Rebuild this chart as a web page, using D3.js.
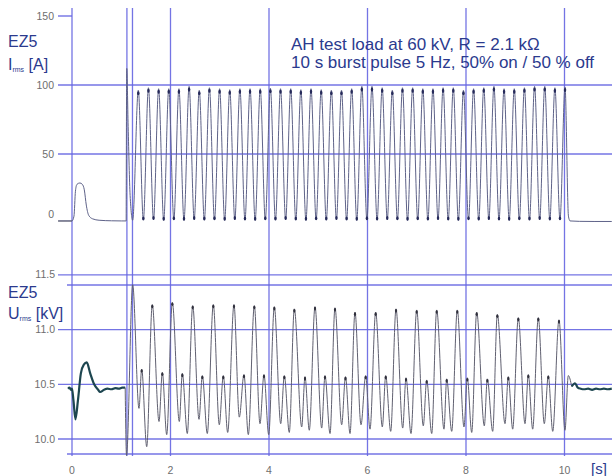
<!DOCTYPE html>
<html><head><meta charset="utf-8">
<script src="https://cdn.jsdelivr.net/npm/d3@7"></script>
<style>body{margin:0;background:#fff}svg{display:block}</style>
</head><body>
<svg id="c" width="612" height="476"></svg>
<script>
// ---------- DATA ----------
const xTicks = [0, 2, 4, 6, 8, 10];
const xTickLabels = ["0", "2", "4", "6", "8", "10"];
const markerT = [1.115, 1.228];           // burst start marker lines [s]
const iTicks = [150, 100, 50, 0];
const iTickLabels = ["150", "100", "50", "0"];
const iGrid = [100, 50];
const uTicks = [11.5, 11.0, 10.5, 10.0];
const uTickLabels = ["11.5", "11.0", "10.5", "10.0"];

// Current Irms [A] : pre-burst segment
const iPreT = [-0.28, -0.1, 0.0, 0.04, 0.07, 0.1, 0.16, 0.21, 0.25, 0.29, 0.34, 0.42, 0.55, 0.8, 1.0, 1.1];
const iPreV = [1.5, 1.5, 1.5, 5, 23, 28, 29, 28, 24, 13, 5.5, 3, 2, 1.6, 1.5, 1.5];
// Current burst: spike then alternating troughs / peaks
const iBurstT = [1.1, 1.112, 1.14, 1.18, 1.232,
  1.346, 1.449, 1.552, 1.655, 1.759, 1.862, 1.965, 2.068, 2.171, 2.274, 2.378, 2.481, 2.584, 2.687, 2.790, 2.893, 2.997, 3.100,
  3.203, 3.306, 3.409, 3.512, 3.615, 3.719, 3.822, 3.925, 4.028, 4.131, 4.234, 4.338, 4.441, 4.544, 4.647, 4.750, 4.853, 4.957,
  5.060, 5.163, 5.266, 5.369, 5.472, 5.576, 5.679, 5.782, 5.885, 5.988, 6.091, 6.195, 6.298, 6.401, 6.504, 6.607, 6.710, 6.813,
  6.917, 7.020, 7.123, 7.226, 7.329, 7.432, 7.535, 7.639, 7.742, 7.845, 7.948, 8.051, 8.154, 8.258, 8.361, 8.464, 8.567, 8.670,
  8.773, 8.877, 8.980, 9.083, 9.186, 9.289, 9.392, 9.496, 9.599, 9.702, 9.805, 9.908, 10.011, 10.08, 10.11];
const iBurstV = [1.5, 112, 70, 20, 2,
  96.2, 2.2, 98, 2.5, 97.3, 2, 97.3, 2.4, 97.3, 2, 99, 2.6, 96.2, 2.1, 98, 2.3, 97.3, 2,
  96.6, 2.5, 97.3, 2.2, 97.3, 2, 97.3, 2.4, 97.7, 2.1, 97.3, 2.5, 97.3, 2.2, 96.6, 2, 97.3, 2.4,
  96.6, 2.1, 96.2, 2.6, 96.2, 2.2, 97.3, 2, 99, 2.4, 99, 2.1, 98, 2.5, 96.2, 2.3, 98, 2,
  98, 2.4, 97.3, 2.1, 97.3, 2.5, 98, 2.2, 98, 2, 96.2, 2.4, 97.3, 2.1, 98, 2.5, 99, 2.2,
  97.3, 2, 97.3, 2.4, 98, 2.1, 99, 2.5, 99, 2.2, 98, 2.3, 98.5, 5, 1.5];
const iPostT = [10.11, 10.3, 10.6, 10.96];
const iPostV = [1.5, 1.2, 1.1, 1.1];

// Voltage Urms [kV]
const uPreT = [-0.08, -0.05, -0.02, 0.0, 0.03, 0.07, 0.12, 0.18, 0.24, 0.30, 0.37, 0.45, 0.53, 0.57, 0.65, 0.72, 0.8, 0.88, 0.95, 1.02, 1.08];
const uPreV = [10.46, 10.47, 10.45, 10.46, 10.35, 10.18, 10.35, 10.6, 10.68, 10.7, 10.6, 10.5, 10.45, 10.43, 10.45, 10.46, 10.455, 10.465, 10.46, 10.47, 10.47];
const uBurstT = [1.08, 1.107, 1.232,
  1.360, 1.415, 1.517, 1.630, 1.767, 1.834, 1.923, 2.037, 2.179, 2.240, 2.341, 2.451, 2.579, 2.646, 2.747, 2.869,
  2.991, 3.072, 3.161, 3.289, 3.397, 3.492, 3.580, 3.702, 3.817, 3.898, 3.994, 4.108, 4.238, 4.311, 4.412, 4.514,
  4.664, 4.731, 4.818, 4.934, 5.070, 5.137, 5.239, 5.340, 5.476, 5.553, 5.645, 5.746, 5.868, 5.963, 6.051, 6.166,
  6.301, 6.370, 6.471, 6.579, 6.715, 6.782, 6.883, 6.999, 7.133, 7.202, 7.304, 7.405, 7.553, 7.608, 7.710, 7.823,
  7.959, 8.027, 8.116, 8.217, 8.372, 8.433, 8.542, 8.636, 8.792, 8.859, 8.948, 9.062, 9.198, 9.265, 9.354, 9.468,
  9.590, 9.671, 9.761, 9.888, 10.010, 10.077, 10.146];
const uBurstV = [10.47, 9.85, 11.41,
  10.28, 10.64, 9.93, 11.23, 10.16, 10.61, 10.04, 11.25, 10.16, 10.60, 10.05, 11.22, 10.18, 10.58, 10.05, 11.23,
  10.13, 10.58, 10.06, 11.23, 10.20, 10.59, 10.04, 11.22, 10.14, 10.59, 10.04, 11.21, 10.14, 10.58, 10.06, 11.19,
  10.11, 10.57, 10.08, 11.21, 10.10, 10.58, 10.05, 11.20, 10.13, 10.57, 10.05, 11.16, 10.13, 10.58, 10.09, 11.16,
  10.11, 10.58, 10.07, 11.19, 10.10, 10.56, 10.05, 11.18, 10.12, 10.54, 10.05, 11.18, 10.09, 10.55, 10.07, 11.18,
  10.11, 10.56, 10.06, 11.16, 10.12, 10.55, 10.07, 11.14, 10.14, 10.57, 10.09, 11.11, 10.14, 10.59, 10.09, 11.11,
  10.14, 10.58, 10.07, 11.09, 10.08, 10.58, 10.48];
const uPostT = [10.146, 10.213, 10.27, 10.33, 10.4, 10.48, 10.56, 10.64, 10.72, 10.8, 10.88, 10.96];
const uPostV = [10.48, 10.51, 10.47, 10.46, 10.455, 10.46, 10.45, 10.46, 10.455, 10.46, 10.455, 10.46];

// ---------- CHART ----------
const svg = d3.select("#c");
const gridC = "#6666e2", textC = "#2b3a8e", tickC = "#6e6e6e";
const x = d3.scaleLinear().domain([0, 10]).range([72, 564.5]);
const yI = d3.scaleLinear().domain([0, 150]).range([223, 16]);
const yU = d3.scaleLinear().domain([9.863, 11.408]).range([454, 285]);
const fontF = "'Liberation Sans', Arial, sans-serif";

// vertical grid lines
const vx = xTicks.concat(markerT);
svg.append("g").selectAll("line").data(vx).join("line")
  .attr("x1", d => x(d)).attr("x2", d => x(d)).attr("y1", 8).attr("y2", 456)
  .attr("stroke", gridC).attr("stroke-width", 1.3).attr("opacity", 0.9);

// top panel horizontal lines
const gTop = svg.append("g");
gTop.selectAll("line.g").data(iGrid).join("line").attr("class", "g")
  .attr("x1", 58).attr("x2", 612).attr("y1", d => yI(d)).attr("y2", d => yI(d))
  .attr("stroke", gridC).attr("stroke-width", 1.3).attr("opacity", 0.9);
gTop.selectAll("line.t").data([150, 0]).join("line").attr("class", "t")
  .attr("x1", 58).attr("x2", 72).attr("y1", d => yI(d) - (d === 0 ? 2 : 0)).attr("y2", d => yI(d) - (d === 0 ? 2 : 0))
  .attr("stroke", d => d === 0 ? "#666" : gridC).attr("stroke-width", d => d === 0 ? 1 : 1.3);
gTop.selectAll("text").data(iTicks).join("text")
  .attr("x", 54).attr("y", (d, i) => yI(d) + (d === 0 ? -5 : 3.5))
  .attr("text-anchor", "end").attr("font-family", fontF).attr("font-size", 10.5).attr("fill", tickC)
  .text((d, i) => iTickLabels[i]);

// bottom panel lines
const gBot = svg.append("g");
gBot.selectAll("line.g").data(uTicks).join("line").attr("class", "g")
  .attr("x1", 58).attr("x2", 612).attr("y1", d => yU(d)).attr("y2", d => yU(d))
  .attr("stroke", gridC).attr("stroke-width", 1.3).attr("opacity", 0.9);
gBot.selectAll("line.f").data(yU.domain()).join("line").attr("class", "f")
  .attr("x1", 67).attr("x2", 612).attr("y1", d => yU(d)).attr("y2", d => yU(d))
  .attr("stroke", gridC).attr("stroke-width", 1.3).attr("opacity", 0.9);
gBot.selectAll("text").data(uTicks).join("text")
  .attr("x", 55).attr("y", d => yU(d) + 3.5)
  .attr("text-anchor", "end").attr("font-family", fontF).attr("font-size", 10.5).attr("fill", tickC)
  .text((d, i) => uTickLabels[i]);

// x tick labels
svg.append("g").selectAll("text").data(xTicks).join("text")
  .attr("x", d => x(d)).attr("y", 474).attr("text-anchor", "middle")
  .attr("font-family", fontF).attr("font-size", 10.5).attr("fill", tickC)
  .text((d, i) => xTickLabels[i]);
svg.append("text").attr("x", 591).attr("y", 474).attr("font-family", fontF)
  .attr("font-size", 15).attr("fill", textC).text("[s]");

// traces
const zip = (a, b) => a.map((t, i) => [t, b[i]]);
const lineI = d3.line().x(d => x(d[0])).y(d => yI(d[1])).curve(d3.curveMonotoneX);
const lineU = d3.line().x(d => x(d[0])).y(d => yU(d[1])).curve(d3.curveMonotoneX);
const traceC = "#5e6288";
svg.append("path").attr("d", lineI(zip(iPreT, iPreV))).attr("fill", "none").attr("stroke", traceC).attr("stroke-width", 1);
svg.append("path").attr("d", lineI(zip(iBurstT, iBurstV))).attr("fill", "none").attr("stroke", traceC).attr("stroke-width", 1);
svg.append("path").attr("d", lineI(zip(iPostT, iPostV))).attr("fill", "none").attr("stroke", traceC).attr("stroke-width", 1);
svg.append("path").attr("d", lineU(zip(uPreT, uPreV))).attr("fill", "none").attr("stroke", "#1d4650").attr("stroke-width", 2.2);
svg.append("path").attr("d", lineU(zip(uBurstT, uBurstV))).attr("fill", "none").attr("stroke", "#606070").attr("stroke-width", 1);
svg.append("path").attr("d", lineU(zip(uPostT, uPostV))).attr("fill", "none").attr("stroke", "#1d4650").attr("stroke-width", 2.2);

// dark blobs at current peaks/troughs and voltage peaks
const iPts = zip(iBurstT, iBurstV).slice(5, -2);
svg.append("g").selectAll("ellipse").data(iPts).join("ellipse")
  .attr("cx", d => x(d[0])).attr("cy", d => yI(d[1]) + (d[1] > 50 ? 3 : -1.5))
  .attr("rx", 1.2).attr("ry", 2).attr("fill", "#262a5a");
const uPts = zip(uBurstT, uBurstV).slice(3, -2).filter(d => d[1] > 10.5);
svg.append("g").selectAll("ellipse").data(uPts).join("ellipse")
  .attr("cx", d => x(d[0])).attr("cy", d => yU(d[1]) + 2)
  .attr("rx", 1.1).attr("ry", 1.8).attr("fill", "#30303c");

// panel labels
function label(y1, y2, sym, unit) {
  svg.append("text").attr("x", 8).attr("y", y1).attr("font-family", fontF).attr("font-size", 16).attr("fill", textC).text("EZ5");
  const t = svg.append("text").attr("x", 8).attr("y", y2).attr("font-family", fontF).attr("font-size", 16).attr("fill", textC);
  t.append("tspan").text(sym);
  t.append("tspan").attr("font-size", 7).attr("dy", 2).text("rms");
  t.append("tspan").attr("dy", -2).text(" " + unit);
}
label(47, 70, "I", "[A]");
label(298, 319, "U", "[kV]");

// annotation
const ann = svg.append("text").attr("font-family", fontF).attr("font-size", 17).attr("fill", textC);
ann.append("tspan").attr("x", 291).attr("y", 50).text("AH test load at 60 kV, R = 2.1 k\u03A9");
ann.append("tspan").attr("x", 291).attr("y", 68).text("10 s burst pulse 5 Hz, 50% on / 50 % off");
</script>
</body></html>
